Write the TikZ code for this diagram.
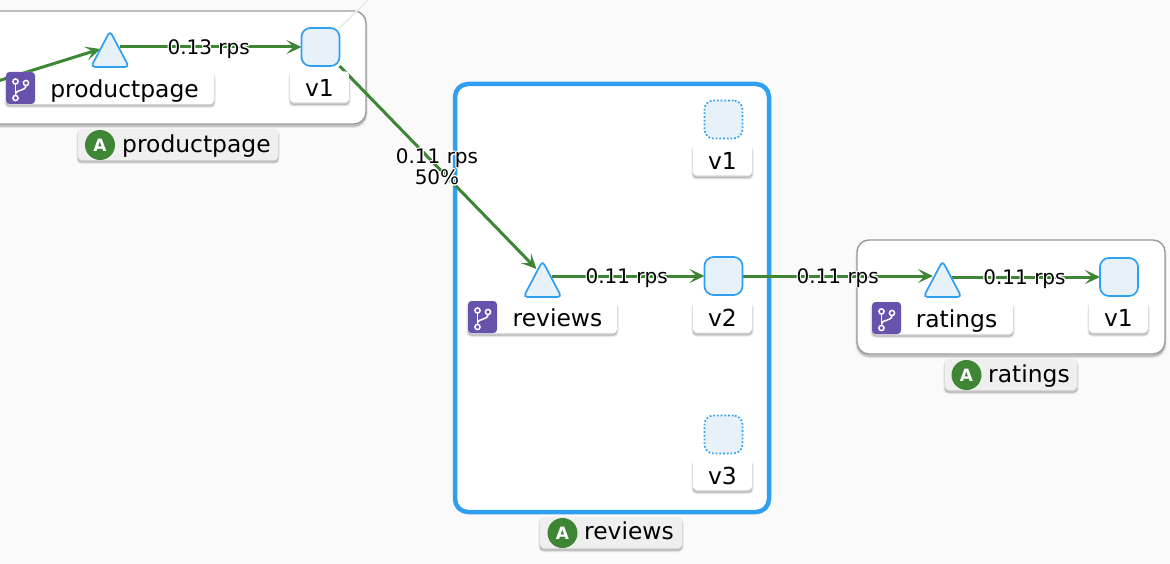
\documentclass[tikz,border=0pt]{standalone}
\usepackage{fontspec}
\setmainfont{DejaVu Sans}
\usepackage[copies]{contour}
\contourlength{1pt}
\usetikzlibrary{arrows.meta,positioning,calc,shapes.geometric}
\definecolor{kbg}{HTML}{FAFAFA}
\definecolor{kblue}{HTML}{2F9FF2}
\definecolor{kfill}{HTML}{E7F1FA}
\definecolor{kgreen}{HTML}{3E8635}
\definecolor{kpurple}{HTML}{6753AC}
\definecolor{kgrey}{HTML}{9A9A9A}
\definecolor{kapp}{HTML}{EFEFEF}
\pgfdeclarelayer{back}
\pgfsetlayers{back,main}
\tikzset{
  softlayer/.style = {preaction={fill=black, draw=black, line width=#1, opacity=.05,
                      transform canvas={yshift=-2.5pt}}},
  softshadow/.style = {softlayer=3.5pt, softlayer=2.2pt, softlayer=1pt},
  nsbox/.style    = {draw=kgrey, line width=1.4pt, fill=white, rounded corners=12pt, softshadow},
  hibox/.style    = {draw=kblue, line width=4.5pt, fill=white, rounded corners=13pt},
  vsquare/.style  = {draw=kblue, line width=1.7pt, fill=kfill, rectangle, rounded corners=9pt,
                     minimum size=38pt, inner sep=0pt, outer sep=0pt},
  vghost/.style   = {vsquare, dotted},
  svctri/.style   = {isosceles triangle, isosceles triangle stretches, shape border rotate=90,
                     minimum width=38pt, minimum height=36pt, inner sep=0pt, outer sep=0pt,
                     anchor=lower side},
  tribody/.style  = {draw=kblue, line width=1.7pt, fill=kfill, rounded corners=4pt},
  verlbl/.style   = {fill=white, rounded corners=3.5pt, minimum width=59pt, minimum height=31pt,
                     inner sep=0pt, softshadow},
  svclbl/.style   = {fill=white, rounded corners=3.5pt, minimum height=32pt, inner sep=0pt,
                     softshadow, path picture={\fill[kpurple]
                     (path picture bounding box.north west) rectangle
                     ([xshift=29pt]path picture bounding box.south west);}},
  applbl/.style   = {fill=kapp, rounded corners=3.5pt, minimum height=31pt, inner sep=0pt, softshadow},
  appdot/.style   = {fill=kgreen, circle, minimum size=30pt, inner sep=0pt, text=white,
                     font=\fontsize{17}{17}\selectfont\bfseries},
  lbltxt/.style   = {anchor=base, inner sep=0pt, font=\fontsize{23.4}{26}\selectfont},
  edgelbl/.style  = {inner sep=0pt, align=center, text=black, yshift=-2.5pt,
                     font=\fontsize{20}{20}\selectfont},
  traffic/.style  = {kgreen, line width=3pt, -{Stealth[length=15pt,width=14pt,inset=7pt]}},
  branch/.pic     = {
    \draw[white, line width=1.5pt] (-5,-5) -- (-5,8);
    \draw[white, line width=1.5pt] (5.5,-3) .. controls (5.5,4) and (-5,1) .. (-5,6);
    \foreach \p in {(-5,-6.5),(-5,10),(5.5,-5)}{
      \draw[white, line width=1.5pt, fill=kpurple] \p circle (2.6);}
  },
}

\begin{document}
\begin{tikzpicture}[x=1pt, y=-1pt]
\useasboundingbox (0,0) rectangle (1170,564);
% ---------------- workload nodes ----------------
\node[svctri] (pptri) at (110,67) {};
\node[vsquare] (ppv1) at (320.5,47) {};
\node[svctri] (revtri) at (542.5,297) {};
\node[vghost] (revv1) at (723.5,119.5) {};
\node[vsquare] (revv2) at (723.5,276) {};
\node[vghost] (revv3) at (723.5,434.5) {};
\node[svctri] (rattri) at (942.5,297) {};
\node[vsquare] (ratv1) at (1119,277) {};
\foreach \t in {pptri,revtri,rattri}{
  \draw[tribody] (\t.apex) -- (\t.left corner) -- (\t.right corner) -- cycle;}
% ---------------- name labels ----------------
\node[svclbl, minimum width=208pt] (pplbl) at (110,88) {};
\pic at (20.5,88) {branch};
\node[lbltxt] (pptxt) at (124.5,98) {productpage};
\node[svclbl, minimum width=149pt] (revlbl) at (542.5,317) {};
\pic at (482.5,317) {branch};
\node[lbltxt] (revtxt) at (557.5,326) {reviews};
\node[svclbl, minimum width=141pt] (ratlbl) at (942.5,318) {};
\pic at (886.5,318) {branch};
\node[lbltxt] (rattxt) at (956.5,327) {ratings};
% versions
\foreach \n/\x/\y/\t in {ppa/319.5/87/v1,reva/722.5/160/v1,revb/722.5/317/v2,revc/722.5/474.5/v3,rata/1118.5/317/v1}{
  \node[verlbl] (\n) at (\x,\y) {};
  \node[lbltxt] at ($(\n.center)+(0,9.5)$) {\t};}
% ---------------- application labels ----------------
\node[applbl, minimum width=200pt] (ppapp) at (178,144.5) {};
\node[appdot] (ppdot) at (100,145) {A};
\node[lbltxt, anchor=base west] (pptag) at (122,152.5) {productpage};
\node[applbl, minimum width=142pt] (revapp) at (611,532.5) {};
\node[appdot] (revdot) at (562.5,533) {A};
\node[lbltxt, anchor=base west] (revtag) at (584,539.5) {reviews};
\node[applbl, minimum width=132pt] (ratapp) at (1011,374.5) {};
\node[appdot] (ratdot) at (966.5,375) {A};
\node[lbltxt, anchor=base west] (rattag) at (988,382) {ratings};
% ---------------- boxes and traffic, under the nodes ----------------
\begin{pgfonlayer}{back}
\fill[kbg] (0,0) rectangle (1170,564);
\draw[nsbox] (-30,11) rectangle (366,124);
\draw[nsbox] (857,240) rectangle (1165,354);
\draw[hibox] (455,84) rectangle (769,512);
\coordinate (ingress) at (-2,81);
\coordinate (ghost) at (368,0);
\draw[kgreen!12, line width=2pt] (ppv1.north east) -- (ghost);
\draw[traffic] (ingress) -- (pptri.left side);
\draw[traffic] (pptri.right side |- ppv1.west) -- node[edgelbl, pos=.49] {\contour{white}{0.13 rps}} (ppv1.west);
\draw[traffic] (ppv1.south east) -- node[edgelbl, pos=.5, xshift=-1pt, yshift=2.5pt] {\contour{white}{0.11 rps}\\\contour{white}{50\%}} ($(revtri.apex)+(-6,8)$);
\draw[traffic] (revtri.right side |- revv2.west) -- node[edgelbl, pos=.49] {\contour{white}{0.11 rps}} (revv2.west);
\draw[traffic] (revv2.east) -- node[edgelbl, pos=.5] {\contour{white}{0.11 rps}} (rattri.left side |- revv2.east);
\draw[traffic] (rattri.right side |- ratv1.west) -- node[edgelbl, pos=.49] {\contour{white}{0.11 rps}} (ratv1.west);
\end{pgfonlayer}
\end{tikzpicture}
\end{document}
